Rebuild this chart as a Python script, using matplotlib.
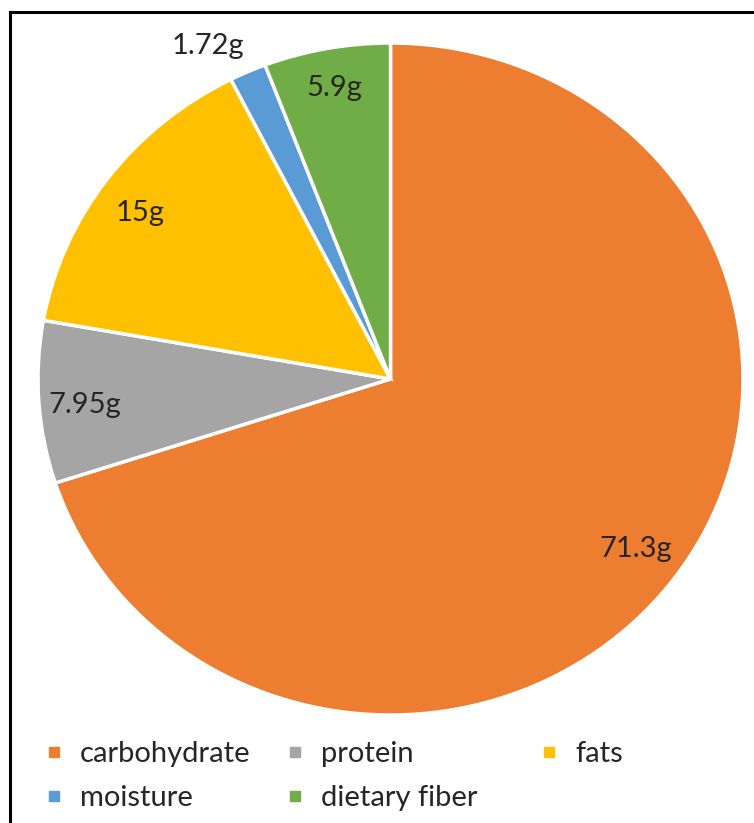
import numpy as np
import matplotlib
matplotlib.use("Agg")
from matplotlib import pyplot as plt
from matplotlib.lines import Line2D

plt.rcParams["font.family"] = ["Lato", "DejaVu Sans"]

nutrients = ["carbohydrate", "protein", "fats", "moisture", "dietary fiber"]
grams = [71.3, 7.95, 15, 1.72, 5.9]
labels = ["71.3g", "7.95g", "15g", "1.72g", "5.9g"]
colors = ["#ED7D31", "#A5A5A5", "#FFC000", "#5B9BD5", "#70AD47"]

# label placement (fraction of radius, alignment, nudge in points)
label_dist = [0.87, 0.87, 0.87, 1.09, 0.88]
label_ha = ["center", "center", "center", "right", "center"]
label_nudge = [(-2, 1), (0, -4), (-3, -6), (7, -1), (0, 0)]

W, H = 754, 823
fig = plt.figure(figsize=(W / 100, H / 100), dpi=100)
ax = fig.add_axes([38 / W, 1 - 715 / H, 705 / W, 672 / H])

wedges, _ = ax.pie(grams, colors=colors, startangle=90, counterclock=False,
                   wedgeprops=dict(edgecolor="white", linewidth=2.5))
ax.set_aspect("auto")
ax.set_xlim(-1, 1)
ax.set_ylim(-1, 1)
ax.axis("off")

for w, lab, d, ha, nd in zip(wedges, labels, label_dist, label_ha, label_nudge):
    mid = np.deg2rad((w.theta1 + w.theta2) / 2)
    ax.annotate(lab, (d * np.cos(mid), d * np.sin(mid)), xytext=nd,
                textcoords="offset points", ha=ha, va="center",
                fontsize=21, color="#262626")

# legend: Excel style, three equal-width columns filled row by row
columns = [[0, 3], [1, 4], [2]]
col_x = [45, 286, 540]
for idx, x in zip(columns, col_x):
    handles = [Line2D([], [], marker="s", linestyle="none", markersize=7,
                      markerfacecolor=colors[i], markeredgecolor=colors[i]) for i in idx]
    fig.legend(handles, [nutrients[i] for i in idx], loc="upper left",
               bbox_to_anchor=(x / W, 1 - 741 / H), frameon=False,
               fontsize=21, handlelength=0.6, handletextpad=0.6,
               labelspacing=0.62, labelcolor="#262626",
               borderpad=0, borderaxespad=0)

# black frame around the chart area
fig.add_artist(Line2D([9.5 / W, 9.5 / W], [0, 1 - 11.5 / H], color="black",
                      linewidth=2.2, transform=fig.transFigure))
fig.add_artist(Line2D([9.5 / W, 1], [1 - 11.5 / H, 1 - 11.5 / H], color="black",
                      linewidth=2.2, transform=fig.transFigure))

fig.savefig("out.png", dpi=100)
